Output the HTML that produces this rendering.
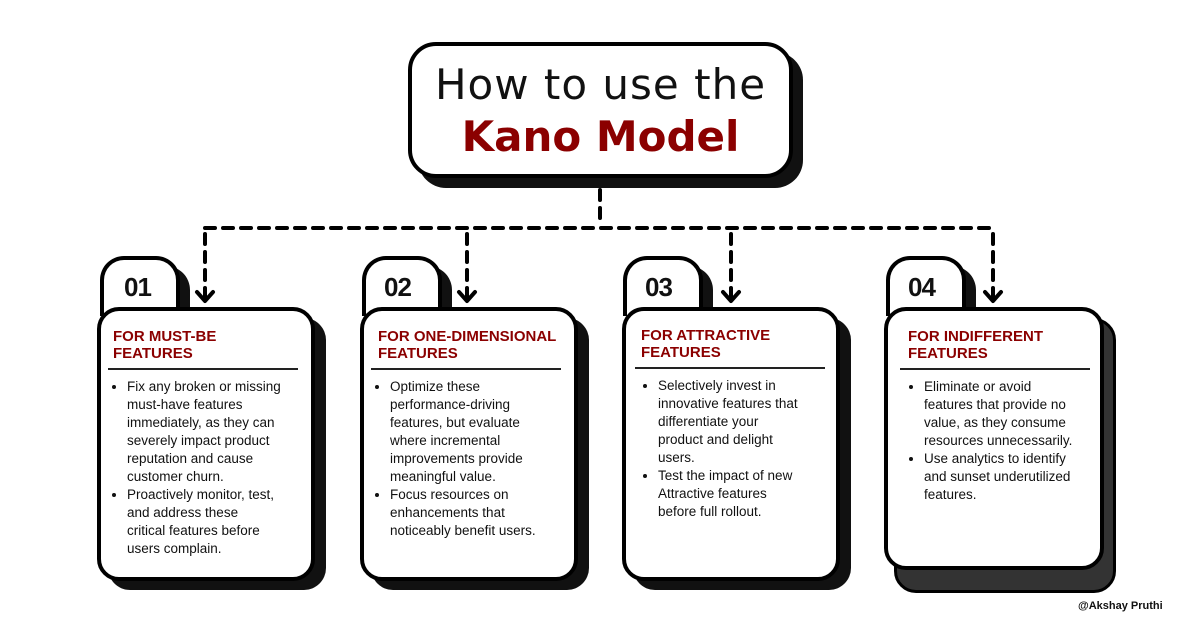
<!DOCTYPE html>
<html><head><meta charset="utf-8"><style>
body{margin:0;width:1200px;height:630px;background:#fff;position:relative;overflow:hidden;font-family:"Liberation Sans",sans-serif;}
.a{position:absolute;box-sizing:border-box;}
.box{border:4px solid #000;background:#fff;border-radius:22px;}
.sh{background:#111;border-radius:22px;}
.tab{border:4px solid #000;background:#fff;border-radius:24px 24px 0 0;border-bottom:none;}
.num{font-weight:bold;font-size:26px;letter-spacing:-1px;color:#111;}
.h{color:#8b0000;font-weight:bold;font-size:15px;line-height:17px;}
.rule{height:2px;background:#222;}
ul{margin:0;padding:0 0 0 18px;font-size:13.5px;line-height:18px;color:#111;white-space:nowrap;}
</style></head><body>
<div class="a sh" style="left:418px;top:52px;width:385px;height:136px;border-radius:28px"></div>
<div class="a box" style="left:408px;top:42px;width:385px;height:136px;border-radius:28px"></div>
<div class="a" style="left:408px;top:60px;width:385px;text-align:center;font-size:42px;font-family:'DejaVu Sans',sans-serif;color:#111;letter-spacing:1px">How to use the</div>
<div class="a" style="left:408px;top:112px;width:385px;text-align:center;font-size:42px;font-weight:bold;font-family:'DejaVu Sans',sans-serif;color:#8b0000">Kano Model</div>
<svg class="a" style="left:0;top:0" width="1200" height="630">
<g stroke="#000" stroke-width="4" fill="none" stroke-linecap="round">
<path d="M600 190 V222" stroke-dasharray="10 8"/>
<path d="M205 228 H993" stroke-dasharray="10 8"/>
<path d="M205 234 V300 M467 234 V300 M731 234 V300 M993 234 V300" stroke-dasharray="10 8"/>
<path d="M197 292 L205 301 L213 292 M459 292 L467 301 L475 292 M723 292 L731 301 L739 292 M985 292 L993 301 L1001 292" stroke-linejoin="round"/>
</g></svg>

<div class="a sh" style="left:110px;top:266px;width:80px;height:60px;border-radius:24px 24px 0 0"></div>
<div class="a tab" style="left:100px;top:256px;width:80px;height:60px"></div>
<div class="a num" style="left:124px;top:272px">01</div>
<div class="a sh" style="left:108px;top:318px;width:218px;height:272px"></div>
<div class="a box" style="left:97px;top:307px;width:218px;height:274px"></div>
<div class="a h" style="left:113px;top:328px">FOR MUST-BE<br>FEATURES</div>
<div class="a rule" style="left:108px;top:368px;width:190px"></div>
<div class="a" style="left:109px;top:378px;width:190px"><ul><li>Fix any broken or missing<br>must-have features<br>immediately, as they can<br>severely impact product<br>reputation and cause<br>customer churn.</li><li>Proactively monitor, test,<br>and address these<br>critical features before<br>users complain.</li></ul></div>

<div class="a sh" style="left:372px;top:266px;width:80px;height:60px;border-radius:24px 24px 0 0"></div>
<div class="a tab" style="left:362px;top:256px;width:80px;height:60px"></div>
<div class="a num" style="left:384px;top:272px">02</div>
<div class="a sh" style="left:371px;top:318px;width:218px;height:272px"></div>
<div class="a box" style="left:360px;top:307px;width:218px;height:274px"></div>
<div class="a h" style="left:378px;top:328px">FOR ONE-DIMENSIONAL<br>FEATURES</div>
<div class="a rule" style="left:371px;top:368px;width:190px"></div>
<div class="a" style="left:372px;top:378px;width:190px"><ul><li>Optimize these<br>performance-driving<br>features, but evaluate<br>where incremental<br>improvements provide<br>meaningful value.</li><li>Focus resources on<br>enhancements that<br>noticeably benefit users.</li></ul></div>

<div class="a sh" style="left:633px;top:266px;width:80px;height:60px;border-radius:24px 24px 0 0"></div>
<div class="a tab" style="left:623px;top:256px;width:80px;height:60px"></div>
<div class="a num" style="left:645px;top:272px">03</div>
<div class="a sh" style="left:633px;top:318px;width:218px;height:272px"></div>
<div class="a box" style="left:622px;top:307px;width:218px;height:274px"></div>
<div class="a h" style="left:641px;top:327px">FOR ATTRACTIVE<br>FEATURES</div>
<div class="a rule" style="left:635px;top:367px;width:190px"></div>
<div class="a" style="left:640px;top:377px;width:190px"><ul><li>Selectively invest in<br>innovative features that<br>differentiate your<br>product and delight<br>users.</li><li>Test the impact of new<br>Attractive features<br>before full rollout.</li></ul></div>

<div class="a sh" style="left:896px;top:266px;width:80px;height:60px;border-radius:24px 24px 0 0"></div>
<div class="a tab" style="left:886px;top:256px;width:80px;height:60px"></div>
<div class="a num" style="left:908px;top:272px">04</div>
<div class="a" style="left:894px;top:318px;width:222px;height:275px;background:#333;border:3px solid #000;border-radius:22px"></div>
<div class="a box" style="left:884px;top:307px;width:220px;height:263px"></div>
<div class="a h" style="left:908px;top:328px">FOR INDIFFERENT<br>FEATURES</div>
<div class="a rule" style="left:900px;top:368px;width:190px"></div>
<div class="a" style="left:906px;top:378px;width:190px"><ul><li>Eliminate or avoid<br>features that provide no<br>value, as they consume<br>resources unnecessarily.</li><li>Use analytics to identify<br>and sunset underutilized<br>features.</li></ul></div>

<div class="a" style="left:1078px;top:600px;font-size:11px;font-weight:bold;color:#111">@Akshay Pruthi</div>
</body></html>
